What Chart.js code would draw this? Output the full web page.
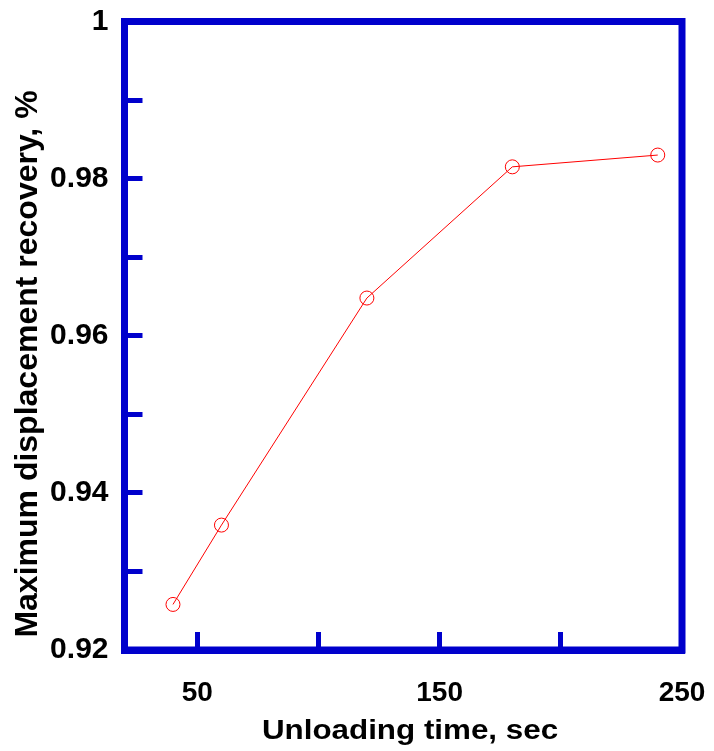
<!DOCTYPE html>
<html>
<head>
<meta charset="utf-8">
<script src="https://cdn.jsdelivr.net/npm/chart.js@4/dist/chart.umd.min.js"></script>
<style>
  html, body { margin: 0; padding: 0; background: #ffffff; }
  #wrap { width: 714px; height: 751px; position: relative; }
</style>
</head>
<body>
<div id="wrap"><canvas id="c" width="714" height="751"></canvas></div>
<script>
// ---- data ----
const unloadingTime = [40, 60, 120, 180, 240];
const displacementRecovery = [0.9258, 0.9359, 0.9648, 0.9815, 0.9830];

const xTickValues = [50, 100, 150, 200, 250];
const xTickLabels = ['50', '', '150', '', '250'];
const yTickValues = [0.92, 0.93, 0.94, 0.95, 0.96, 0.97, 0.98, 0.99, 1.00];
const yTickLabels = ['0.92', '', '0.94', '', '0.96', '', '0.98', '', '1'];

const xTitle = 'Unloading time, sec';
const yTitle = 'Maximum displacement recovery, %';

const AXIS_BLUE = '#0000cc';
const FONT = '"Liberation Sans", Arial, Helvetica, sans-serif';

// frame (top/right sides) + axis titles
const framePlugin = {
  id: 'frame',
  beforeDatasetsDraw(chart) {
    const { ctx, chartArea: a } = chart;
    ctx.save();
    ctx.strokeStyle = AXIS_BLUE;
    ctx.lineWidth = 7;
    ctx.lineJoin = 'miter';
    ctx.strokeRect(a.left, a.top, a.right - a.left, a.bottom - a.top);
    ctx.restore();
  },
  afterDraw(chart) {
    const { ctx } = chart;
    ctx.save();
    ctx.fillStyle = '#000000';
    ctx.textAlign = 'center';
    ctx.textBaseline = 'alphabetic';
    // x title
    ctx.save();
    ctx.font = 'bold 28px ' + FONT;
    ctx.translate(410, 739);
    ctx.scale(1.12, 1);
    ctx.fillText(xTitle, 0, 0);
    ctx.restore();
    // y title
    ctx.save();
    ctx.font = 'bold 32px ' + FONT;
    ctx.translate(37, 364);
    ctx.rotate(-Math.PI / 2);
    ctx.fillText(yTitle, 0, 0);
    ctx.restore();
    ctx.restore();
  }
};

new Chart(document.getElementById('c'), {
  type: 'scatter',
  data: {
    datasets: [{
      data: unloadingTime.map((x, i) => ({ x: x, y: displacementRecovery[i] })),
      showLine: true,
      borderColor: '#ff0000',
      borderWidth: 1,
      pointRadius: 7,
      pointBorderWidth: 1,
      pointBackgroundColor: 'rgba(0,0,0,0)',
      pointBorderColor: '#ff0000',
      tension: 0
    }]
  },
  options: {
    responsive: false,
    animation: false,
    layout: { padding: { left: 0, top: 21.5, right: 32, bottom: 0 } },
    plugins: { legend: { display: false }, tooltip: { enabled: false } },
    scales: {
      x: {
        type: 'linear',
        position: 'bottom',
        min: 20,
        max: 250,
        afterBuildTicks: (s) => { s.ticks = xTickValues.map(v => ({ value: v })); },
        afterFit: (s) => { s.height = 101; s.paddingLeft = 0; s.paddingRight = 0; },
        border: { display: true, color: AXIS_BLUE, width: 7 },
        grid: { display: true, drawOnChartArea: false, drawTicks: true, tickLength: -18, color: AXIS_BLUE, lineWidth: 5 },
        ticks: {
          autoSkip: false, maxRotation: 0, padding: 44,
          color: '#000000',
          font: { family: FONT, size: 28, weight: 'bold' },
          callback: (v, i) => xTickLabels[i]
        }
      },
      y: {
        type: 'linear',
        position: 'left',
        min: 0.92,
        max: 1,
        afterBuildTicks: (s) => { s.ticks = yTickValues.map(v => ({ value: v })); },
        afterFit: (s) => { s.width = 124.5; s.paddingTop = 0; s.paddingBottom = 0; },
        border: { display: true, color: AXIS_BLUE, width: 7 },
        grid: { display: true, drawOnChartArea: false, drawTicks: true, tickLength: -18, color: AXIS_BLUE, lineWidth: 5 },
        ticks: {
          autoSkip: false,
          padding: 34,
          color: '#000000',
          font: { family: FONT, size: 30, weight: 'bold' },
          callback: (v, i) => yTickLabels[i]
        }
      }
    }
  },
  plugins: [framePlugin]
});
</script>
</body>
</html>
